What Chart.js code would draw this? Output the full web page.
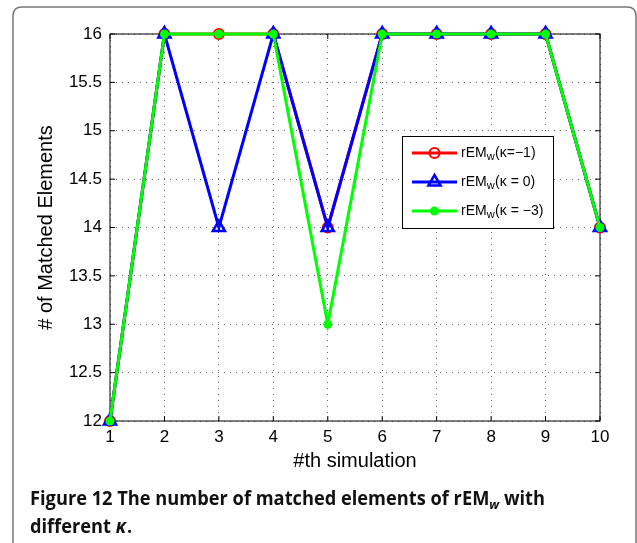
<!DOCTYPE html>
<html>
<head>
<meta charset="utf-8">
<script src="https://cdn.jsdelivr.net/npm/chart.js@4.4.1/dist/chart.umd.min.js"></script>
<style>
  html, body { margin: 0; padding: 0; background: #fff; }
  #wrap { width: 637px; height: 543px; }
</style>
</head>
<body>
<div id="wrap"><canvas id="myChart" width="637" height="543"></canvas></div>
<script>
let simulations = [1, 2, 3, 4, 5, 6, 7, 8, 9, 10];
let kappaMinus1 = [12, 16, 16, 16, 14, 16, 16, 16, 16, 14];
let kappaZero = [12, 16, 14, 16, 14, 16, 16, 16, 16, 14];
let kappaMinus3 = [12, 16, 16, 16, 13, 16, 16, 16, 16, 14];
let kappaLabels = ["=\u22121", " = 0", " = \u22123"];
let yTicks = [12, 12.5, 13, 13.5, 14, 14.5, 15, 15.5, 16];

let xTitle = "#th simulation";
let yTitle = "# of Matched Elements";

let font = "'Liberation Sans', Arial, sans-serif";

function toPoints(values) {
  return simulations.map((s, i) => ({ x: s, y: values[i] }));
}

function marker(ctx, style, x, y) {
  ctx.save();
  ctx.lineWidth = style.w;
  ctx.strokeStyle = style.color;
  ctx.fillStyle = style.fill;
  ctx.beginPath();
  if (style.shape === "triangle") {
    let r = style.r;
    ctx.moveTo(x, y - r);
    ctx.lineTo(x + r * 0.87, y + r * 0.5);
    ctx.lineTo(x - r * 0.87, y + r * 0.5);
    ctx.closePath();
  } else {
    ctx.arc(x, y, style.r, 0, Math.PI * 2);
  }
  ctx.fill();
  if (style.w > 0) ctx.stroke();
  ctx.restore();
}

let styles = [
  { color: "#ff0000", fill: "rgba(255,255,255,0)", shape: "circle", r: 5, w: 2 },
  { color: "#0000ff", fill: "rgba(255,255,255,0)", shape: "triangle", r: 7, w: 2.5 },
  { color: "#00ff00", fill: "#00ff00", shape: "circle", r: 4.5, w: 0 },
];

let figurePlugin = {
  id: "figure",
  beforeDraw(chart) {
    let ctx = chart.ctx;
    ctx.save();
    ctx.fillStyle = "#fff";
    ctx.fillRect(0, 0, chart.width, chart.height);
    // outer figure frame
    ctx.strokeStyle = "#777";
    ctx.lineWidth = 1.5;
    let l = 13, t = 7, r = 636, b = 560, rad = 9;
    ctx.beginPath();
    ctx.moveTo(l, b);
    ctx.lineTo(l, t + rad);
    ctx.quadraticCurveTo(l, t, l + rad, t);
    ctx.lineTo(r - rad, t);
    ctx.quadraticCurveTo(r, t, r, t + rad);
    ctx.lineTo(r, b);
    ctx.stroke();
    ctx.restore();
  },
  beforeDatasetsDraw(chart) {
    let ctx = chart.ctx;
    let a = chart.chartArea;
    let xs = chart.scales.x, ys = chart.scales.y;
    ctx.save();
    ctx.strokeStyle = "#000";
    ctx.lineWidth = 1;
    ctx.strokeRect(a.left, a.top, a.right - a.left, a.bottom - a.top);
    // inward ticks on all four sides
    ctx.beginPath();
    simulations.forEach(v => {
      let px = xs.getPixelForValue(v);
      ctx.moveTo(px, a.bottom); ctx.lineTo(px, a.bottom - 5);
      ctx.moveTo(px, a.top); ctx.lineTo(px, a.top + 5);
    });
    yTicks.forEach(v => {
      let py = ys.getPixelForValue(v);
      ctx.moveTo(a.left, py); ctx.lineTo(a.left + 5, py);
      ctx.moveTo(a.right, py); ctx.lineTo(a.right - 5, py);
    });
    ctx.stroke();
    ctx.restore();
  },
  afterDraw(chart) {
    let ctx = chart.ctx;
    let a = chart.chartArea;
    ctx.save();
    ctx.fillStyle = "#000";
    ctx.font = "20px " + font;
    ctx.textAlign = "center";
    ctx.textBaseline = "middle";
    ctx.fillText(xTitle, (a.left + a.right) / 2, 461);
    ctx.save();
    ctx.translate(46, (a.top + a.bottom) / 2);
    ctx.rotate(-Math.PI / 2);
    ctx.fillText(yTitle, 0, 0);
    ctx.restore();

    // legend
    let lx = 402, ly = 136, lw = 151, lh = 92;
    ctx.fillStyle = "#fff";
    ctx.fillRect(lx, ly, lw, lh);
    ctx.strokeStyle = "#000";
    ctx.lineWidth = 1;
    ctx.strokeRect(lx + 0.5, ly + 0.5, lw, lh);
    let rows = [153, 182, 211];
    chart.data.datasets.forEach((ds, i) => {
      let y = rows[i];
      ctx.strokeStyle = ds.borderColor;
      ctx.lineWidth = 3;
      ctx.beginPath();
      ctx.moveTo(412, y); ctx.lineTo(457, y);
      ctx.stroke();
      marker(ctx, styles[i], 434.5, y);
      ctx.fillStyle = "#000";
      ctx.textAlign = "left";
      ctx.textBaseline = "middle";
      ctx.font = "14px " + font;
      let x = 461;
      ctx.fillText("rEM", x, y);
      x += ctx.measureText("rEM").width;
      ctx.font = "11px " + font;
      ctx.fillText("w", x, y + 4);
      x += ctx.measureText("w").width + 0.5;
      ctx.font = "14px " + font;
      ctx.fillText("(\u03ba" + kappaLabels[i] + ")", x, y);
    });

    // caption
    let capFont = "bold 19px 'Open Sans', 'Noto Sans', sans-serif";
    let subFont = "bold italic 13px 'Open Sans', 'Noto Sans', sans-serif";
    ctx.font = capFont;
    let p1 = "Figure 12 The number of matched elements of rEM";
    let p2 = " with";
    let w1 = ctx.measureText(p1).width + ctx.measureText(p2).width;
    ctx.font = subFont;
    w1 += ctx.measureText("w").width;
    let sx = 515 / w1;
    ctx.save();
    ctx.translate(30, 0);
    ctx.scale(sx, 1);
    ctx.textBaseline = "alphabetic";
    ctx.textAlign = "left";
    ctx.fillStyle = "#111";
    let x = 0;
    ctx.font = capFont;
    ctx.fillText(p1, x, 505);
    x += ctx.measureText(p1).width;
    ctx.font = subFont;
    ctx.fillText("w", x, 509);
    x += ctx.measureText("w").width;
    ctx.font = capFont;
    ctx.fillText(p2, x, 505);
    x = 0;
    ctx.fillText("different ", x, 533);
    x += ctx.measureText("different ").width;
    ctx.font = "bold italic 19px 'Open Sans', 'Noto Sans', sans-serif";
    ctx.fillText("\u03ba", x, 533);
    x += ctx.measureText("\u03ba").width;
    ctx.font = capFont;
    ctx.fillText(".", x + 1, 533);
    ctx.restore();
    ctx.restore();
  },
};

new Chart(document.getElementById("myChart"), {
  type: "line",
  data: {
    datasets: [
      {
        label: "rEMw(\u03ba" + kappaLabels[0] + ")",
        data: toPoints(kappaMinus1),
        order: 2,
        borderColor: "#ff0000",
        borderWidth: 3,
        pointStyle: "circle",
        pointRadius: 5,
        pointBorderWidth: 2,
        pointBackgroundColor: "rgba(255,255,255,0)",
        pointBorderColor: "#ff0000",
        clip: false,
      },
      {
        label: "rEMw(\u03ba" + kappaLabels[1] + ")",
        data: toPoints(kappaZero),
        order: 1,
        borderColor: "#0000ff",
        borderWidth: 3,
        pointStyle: "triangle",
        pointRadius: 7,
        pointBorderWidth: 2.5,
        pointBackgroundColor: "rgba(255,255,255,0)",
        pointBorderColor: "#0000ff",
        clip: false,
      },
      {
        label: "rEMw(\u03ba" + kappaLabels[2] + ")",
        data: toPoints(kappaMinus3),
        order: 0,
        borderColor: "#00ff00",
        borderWidth: 3,
        pointStyle: "circle",
        pointRadius: 4.5,
        pointBorderWidth: 0,
        pointBackgroundColor: "#00ff00",
        pointBorderColor: "#00ff00",
        clip: false,
      },
    ],
  },
  options: {
    responsive: false,
    animation: false,
    layout: { padding: { left: 0, top: 34, right: 37, bottom: 0 } },
    plugins: { legend: { display: false }, tooltip: { enabled: false } },
    elements: { line: { tension: 0 } },
    scales: {
      x: {
        type: "linear",
        min: 1,
        max: 10,
        afterFit(scale) { scale.height = 122; },
        afterBuildTicks(scale) { scale.ticks = simulations.map(v => ({ value: v })); },
        ticks: { color: "#000", font: { family: font, size: 17 }, padding: 6, callback: v => String(v) },
        grid: { color: "#666", lineWidth: 1, drawTicks: false },
        border: { display: false, dash: [1, 5] },
      },
      y: {
        min: 12,
        max: 16,
        afterFit(scale) { scale.width = 110; },
        afterBuildTicks(scale) { scale.ticks = yTicks.map(v => ({ value: v })); },
        ticks: { color: "#000", font: { family: font, size: 17 }, padding: 8, callback: v => String(v) },
        grid: { color: "#666", lineWidth: 1, drawTicks: false },
        border: { display: false, dash: [1, 5] },
      },
    },
  },
  plugins: [figurePlugin],
});
</script>
</body>
</html>
